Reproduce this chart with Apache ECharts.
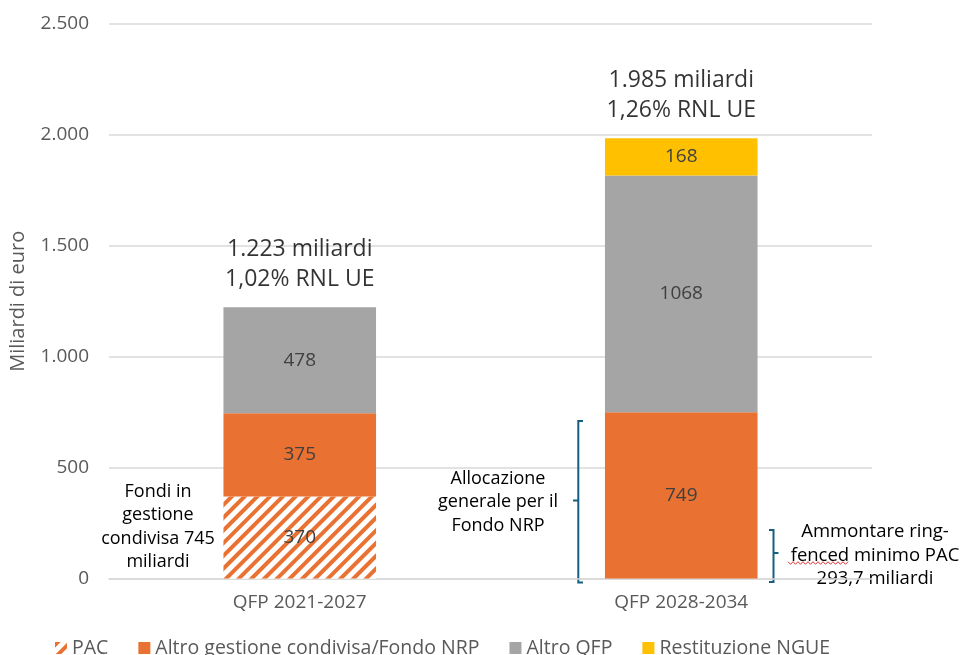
<!DOCTYPE html>
<html>
<head>
<meta charset="utf-8">
<script src="https://cdn.jsdelivr.net/npm/echarts@6/dist/echarts.min.js"></script>
<style>
html,body{margin:0;padding:0;background:#fff;}
#chart{width:966px;height:655px;}
</style>
</head>
<body>
<div id="chart"></div>
<script>
// ---- data ----
const categories = ['QFP 2021-2027', 'QFP 2028-2034'];
const seriesNames = ['PAC', 'Altro gestione condivisa/Fondo NRP', 'Altro QFP', 'Restituzione NGUE'];
const pac = [370, null];
const altroGestione = [375, 749];
const altroQFP = [478, 1068];
const restituzione = [null, 168];
const totals = [1223, 1985];
const totalLabels = [['1.223 miliardi', '1,02% RNL UE'], ['1.985 miliardi', '1,26% RNL UE']];
const yTicks = [0, 500, 1000, 1500, 2000, 2500];

const FONT = '"Open Sans", "Noto Sans", sans-serif';
const ORANGE = '#E97132', GRAY = '#A5A5A5', YELLOW = '#FFC000', BLUE = '#156082';

const chart = echarts.init(document.getElementById('chart'));

const barLabel = {
  show: true, position: 'inside', color: '#404040', fontSize: 19, fontFamily: FONT,
  formatter: p => p.value
};

function fmt(v){ return String(v).replace(/\B(?=(\d{3})+(?!\d))/g, '.'); }

const option = {
  animation: false,
  backgroundColor: '#fff',
  textStyle: { fontFamily: FONT },
  grid: { left: 109, right: 94, top: 24, bottom: 76.5, containLabel: false, outerBoundsMode: 'none' },
  legend: {
    data: seriesNames,
    left: 50, top: 633,
    itemWidth: 12, itemHeight: 12, itemGap: 30,
    icon: 'rect',
    textStyle: { fontSize: 19.5, color: '#595959', fontFamily: FONT }
  },
  xAxis: {
    type: 'category', data: categories,
    axisLine: { show: true, lineStyle: { color: '#D9D9D9', width: 1.5 } },
    axisTick: { show: false },
    axisLabel: { fontSize: 19, color: '#595959', margin: 15, fontFamily: FONT }
  },
  yAxis: {
    type: 'value', min: yTicks[0], max: yTicks[yTicks.length - 1], interval: 500,
    name: 'Miliardi di euro', nameLocation: 'middle', nameGap: 81, nameRotate: 90,
    nameTextStyle: { fontSize: 20, color: '#595959', fontFamily: FONT },
    axisLine: { show: false }, axisTick: { show: false },
    splitLine: { lineStyle: { color: '#D9D9D9', width: 1.5 } },
    axisLabel: { fontSize: 19, color: '#595959', margin: 20, fontFamily: FONT, formatter: v => fmt(v) }
  },
  series: [
    {
      name: seriesNames[0], type: 'bar', stack: 'tot', barWidth: '40%', data: pac,
      itemStyle: {
        color: '#ffffff',
        decal: {
          symbol: 'rect', symbolSize: 1,
          dashArrayX: [1, 0], dashArrayY: [3.5, 5],
          rotation: -Math.PI / 4,
          color: ORANGE, backgroundColor: '#ffffff'
        }
      },
      label: barLabel
    },
    { name: seriesNames[1], type: 'bar', stack: 'tot', barWidth: '40%', data: altroGestione, itemStyle: { color: ORANGE }, label: barLabel },
    { name: seriesNames[2], type: 'bar', stack: 'tot', barWidth: '40%', data: altroQFP, itemStyle: { color: GRAY }, label: barLabel },
    { name: seriesNames[3], type: 'bar', stack: 'tot', barWidth: '40%', data: restituzione, itemStyle: { color: YELLOW }, label: barLabel },
    {
      name: 'Totale', type: 'scatter', data: totals, symbolSize: 0, silent: true,
      label: {
        show: true, position: 'top', distance: 12.5,
        fontSize: 23, lineHeight: 30, color: '#000', fontFamily: FONT,
        formatter: p => totalLabels[p.dataIndex].join('\n')
      }
    }
  ]
};
chart.setOption(option);

// ---- annotations ----
const annFont = { fontSize: 18, fontFamily: FONT, fill: '#000', align: 'center', verticalAlign: 'top', lineHeight: 23.5 };
function squiggle(x0, x1, y){
  const pts = []; let up = true;
  for (let x = x0; x <= x1; x += 2.5) { pts.push([x, up ? y - 1.3 : y + 1.3]); up = !up; }
  return pts;
}
chart.setOption({
  graphic: [
    { type: 'text', x: 158, y: 480, style: Object.assign({ text: 'Fondi in\ngestione\ncondivisa 745\nmiliardi' }, annFont) },
    { type: 'text', x: 498, y: 467, style: Object.assign({ text: 'Allocazione\ngenerale per il\nFondo NRP' }, annFont) },
    { type: 'text', x: 875, y: 520, style: Object.assign({ text: 'Ammontare ring-\nfenced minimo PAC\n293,7 miliardi' }, annFont, { fontSize: 18.5 }) },
    { type: 'polyline', shape: { points: [[583, 421], [578.3, 421], [578.3, 582.5], [583, 582.5]] }, style: { stroke: BLUE, lineWidth: 2, fill: null } },
    { type: 'line', shape: { x1: 573, y1: 500.5, x2: 578.3, y2: 500.5 }, style: { stroke: BLUE, lineWidth: 2 } },
    { type: 'polyline', shape: { points: [[769, 530], [773.5, 530], [773.5, 582], [769, 582]] }, style: { stroke: BLUE, lineWidth: 2, fill: null } },
    { type: 'line', shape: { x1: 773.5, y1: 553, x2: 778.5, y2: 553 }, style: { stroke: BLUE, lineWidth: 2 } },
    { type: 'polyline', shape: { points: squiggle(788, 849, 563) }, style: { stroke: '#E03030', lineWidth: 1, fill: null } }
  ]
});
</script>
</body>
</html>
